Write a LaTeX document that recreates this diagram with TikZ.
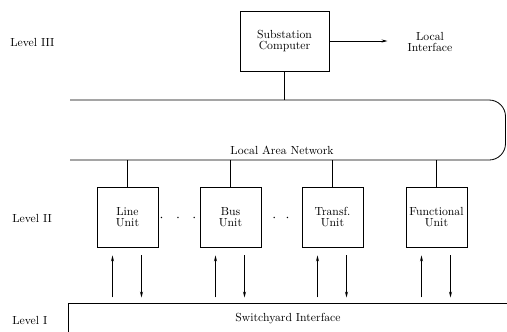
\documentclass[tikz,border=0pt]{standalone}
\usetikzlibrary{arrows.meta,calc}
\tikzset{
  every node/.style={font=\fontsize{10}{9.5}\selectfont},
  unitbox/.style={draw,line width=.8pt,minimum width=61*.03cm,minimum height=60*.03cm,align=center,inner sep=1pt},
  lvl/.style={anchor=west},
  dots/.style={font=\large}
}
\begin{document}
\begin{tikzpicture}[x=.03cm,y=-.03cm,line width=.7pt,>={Stealth[length=5pt,width=2.6pt]}]
\useasboundingbox (0,0) rectangle (507,331);
\node[lvl] (l3) at (6,42) {Level III};
\node[lvl] (l2) at (8,218) {Level II};
\node[lvl] (l1) at (8,320) {Level I};
\node[unitbox,minimum width=89*.03cm] (sc) at (284.5,41) {Substation\\Computer};
\node[align=center] (li) at (430,42) {Local\\Interface};
\coordinate (lant) at (0,100);
\coordinate (lanb) at (0,160);
\draw[rounded corners=14] (70,100) -- (505.5,100) -- (505.5,160) -- (70,160);
\node (lan) at (282,150) {Local Area Network};
\node[unitbox] (lu) at (127.5,217) {Line\\Unit};
\node[unitbox] (bu) at (230.5,217) {Bus\\Unit};
\node[unitbox] (tu) at (332.5,217) {Transf.\\Unit};
\node[unitbox] (fu) at (436.5,217) {Functional\\Unit};
\node[dots] (d1) at (178,218) {$\cdot\hspace{8pt}\cdot\hspace{8pt}\cdot$};
\node[dots] (d2) at (281,218) {$\cdot\hspace{8pt}\cdot$};
\draw[line width=.8pt] (68,303) rectangle (520,345);
\node (sw) at (288,319) {Switchyard Interface};
\draw[->] (sc) -- ($(sc.east)+(58,0)$);
\draw (sc) -- (sc |- lant);
\foreach \u in {lu,bu,tu,fu}{
  \draw (\u) -- (\u |- lanb);
  \draw[->] ($(\u.south)+(-15,50)$) -- ($(\u.south)+(-15,8)$);
  \draw[->] ($(\u.south)+(14,8)$) -- ($(\u.south)+(14,50)$);
}
\end{tikzpicture}
\end{document}
